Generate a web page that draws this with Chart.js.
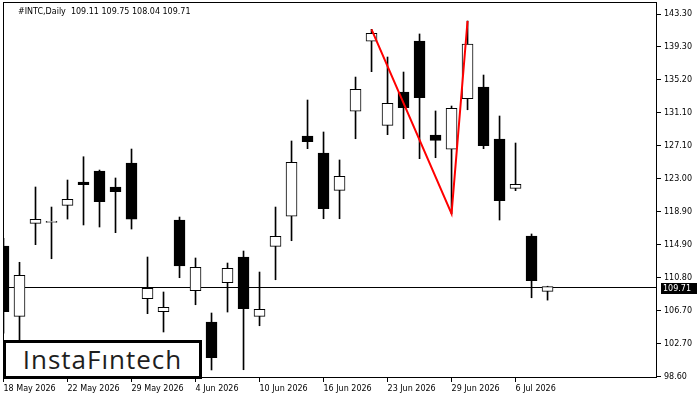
<!DOCTYPE html>
<html>
<head>
<meta charset="utf-8">
<script src="https://cdn.jsdelivr.net/npm/chart.js"></script>
<style>
  body { margin: 0; background: #fff; }
  #wrap { position: relative; width: 700px; height: 400px; }
  #logo {
    position: absolute; left: 3px; top: 340px; width: 199px; height: 39px;
    box-sizing: border-box; border: 3px solid #000; background: #fff;
    font-family: "Open Sans"; font-size: 26px; color: #1e1e1e; letter-spacing: 1px;
    line-height: 33px; text-align: center;
  }
</style>
</head>
<body>
<div id="wrap">
  <canvas id="chart"></canvas>
  <div id="logo">InstaFıntech</div>
</div>
<script>
// trading days shown on the chart
const dates = ['18 May 2026','19 May 2026','20 May 2026','21 May 2026','22 May 2026',
  '26 May 2026','27 May 2026','28 May 2026','29 May 2026','1 Jun 2026','2 Jun 2026',
  '3 Jun 2026','4 Jun 2026','5 Jun 2026','8 Jun 2026','9 Jun 2026','10 Jun 2026',
  '11 Jun 2026','12 Jun 2026','15 Jun 2026','16 Jun 2026','17 Jun 2026','18 Jun 2026',
  '22 Jun 2026','23 Jun 2026','24 Jun 2026','25 Jun 2026','26 Jun 2026','29 Jun 2026',
  '30 Jun 2026','1 Jul 2026','2 Jul 2026','6 Jul 2026','7 Jul 2026','8 Jul 2026'];

const open  = [114.71,106.04,117.50,117.62,119.72,122.59,123.95,121.98,124.93,108.21,106.61,117.91,109.20,105.34,110.18,113.35,106.04,114.67,118.37,128.26,126.17,121.57,131.31,139.94,129.58,133.69,139.97,128.39,126.63,132.86,134.30,127.89,121.82,115.94,109.11];
const high  = [115.66,112.70,121.98,119.51,122.84,125.71,124.07,123.09,126.66,113.35,109.04,118.28,113.23,106.45,112.61,114.09,111.50,119.51,127.65,132.70,128.76,125.31,135.53,141.41,138.00,136.15,140.84,131.35,131.96,142.44,135.78,130.73,127.40,116.19,109.75];
const low   = [103.95,101.20,114.87,113.14,118.03,117.30,117.05,116.35,116.80,106.37,104.11,110.80,107.47,99.43,106.57,99.46,104.88,110.55,115.36,126.70,118.07,118.07,127.93,136.19,128.43,127.93,125.47,125.59,118.69,131.50,126.70,117.91,121.53,108.33,108.04];
const close = [106.61,111.10,118.00,117.66,120.46,122.26,120.17,121.40,118.03,109.49,107.15,112.24,112.08,100.94,111.96,106.98,106.90,115.90,125.02,127.56,119.30,123.30,134.02,140.92,132.29,131.75,132.98,127.73,131.68,139.60,127.07,120.29,122.31,110.43,109.71];

// red pattern line (bar index, price)
const patternX = [23, 28, 29];
const patternY = [141.41, 118.69, 142.44];

const xTickIdx = [0, 4, 8, 12, 16, 20, 24, 28, 32];
const yTicks = [98.60, 102.70, 106.70, 110.80, 114.90, 118.90, 123.00, 127.10, 131.10, 135.20, 139.30, 143.30];

const last = close.length - 1;
const titleText = '#INTC,Daily  ' + [open[last], high[last], low[last], close[last]].map(v => v.toFixed(2)).join(' ');

Chart.defaults.font.family = 'DejaVu Sans';
Chart.defaults.font.size = 8;
Chart.defaults.color = '#000';

const mtPlugin = {
  id: 'mt',
  beforeDatasetsDraw(chart) {
    const {ctx, chartArea, scales} = chart;
    const y = Math.round(scales.y.getPixelForValue(close[last])) + 0.5;
    ctx.save();
    ctx.strokeStyle = '#000';
    ctx.lineWidth = 1;
    ctx.beginPath();
    ctx.moveTo(chartArea.left, y);
    ctx.lineTo(chartArea.right, y);
    ctx.stroke();
    ctx.restore();
  },
  afterDraw(chart) {
    const {ctx, chartArea, scales} = chart;
    ctx.save();
    // frame
    ctx.strokeStyle = '#000';
    ctx.lineWidth = 1;
    ctx.strokeRect(chartArea.left + 0.5, chartArea.top + 0.5,
      chartArea.right - chartArea.left - 1, chartArea.bottom - chartArea.top - 1);
    // title
    ctx.font = '8px "DejaVu Sans"';
    ctx.fillStyle = '#000';
    ctx.textBaseline = 'middle';
    ctx.textAlign = 'left';
    ctx.fillText(titleText, chartArea.left + 15, chartArea.top + 10);
    // last price box
    const y = Math.round(scales.y.getPixelForValue(close[last]));
    ctx.fillRect(chartArea.right + 4, y - 4, 36, 11);
    ctx.fillStyle = '#fff';
    ctx.fillText(close[last].toFixed(2), chartArea.right + 6, y + 1.5);
    ctx.restore();
  }
};

new Chart(document.getElementById('chart'), {
  type: 'bar',
  data: {
    datasets: [
      {
        type: 'line',
        data: patternX.map((x, i) => ({x: x, y: patternY[i]})),
        borderColor: '#ff0000',
        borderWidth: 2,
        pointRadius: 0,
        fill: false,
        tension: 0,
        order: -1
      },
      {
        data: open.map((o, i) => ({x: i, y: [o, close[i]]})),
        backgroundColor: open.map((o, i) => close[i] >= o ? '#fff' : '#000'),
        borderColor: '#000',
        borderWidth: 1,
        borderSkipped: false,
        barThickness: 11,
        minBarLength: 1,
        grouped: false,
        order: 0
      },
      {
        data: low.map((l, i) => ({x: i, y: [l, high[i]]})),
        backgroundColor: '#000',
        borderWidth: 0,
        barThickness: 1,
        grouped: false,
        order: 1
      }
    ]
  },
  options: {
    responsive: true,
    maintainAspectRatio: false,
    devicePixelRatio: 1,
    animation: false,
    layout: { padding: { left: 3, top: 2, right: 0, bottom: 0 } },
    plugins: { legend: { display: false }, tooltip: { enabled: false } },
    scales: {
      x: {
        type: 'linear',
        offset: false,
        min: -0.03125,
        max: 40.84,
        grid: { offset: false, drawOnChartArea: false, drawTicks: true, tickLength: 4, color: '#000' },
        border: { display: false },
        afterBuildTicks: s => { s.ticks = xTickIdx.map(v => ({value: v})); },
        afterFit: s => { s.height = 22; s.paddingLeft = 0; s.paddingRight = 0; },
        ticks: {
          autoSkip: false, maxRotation: 0, align: 'start', padding: 2,
          callback: v => dates[v]
        }
      },
      y: {
        position: 'right',
        min: 98.44,
        max: 144.78,
        grid: { drawOnChartArea: false, drawTicks: true, tickLength: 4, color: '#000' },
        border: { display: false },
        afterBuildTicks: s => { s.ticks = yTicks.map(v => ({value: v})); },
        afterFit: s => { s.width = 43; s.paddingTop = 0; s.paddingBottom = 0; },
        ticks: { padding: 3, callback: v => v.toFixed(2) }
      }
    }
  },
  plugins: [mtPlugin]
});
</script>
</body>
</html>
